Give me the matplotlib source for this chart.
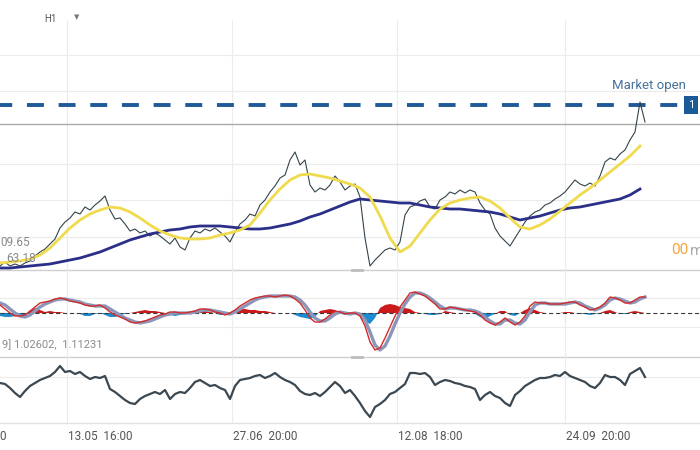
import numpy as np
import matplotlib
matplotlib.use('Agg')
import matplotlib.pyplot as plt
from matplotlib.transforms import blended_transform_factory
from matplotlib.lines import Line2D

plt.rcParams['font.family'] = ['Roboto', 'DejaVu Sans']
plt.rcParams['lines.scale_dashes'] = False

# ---- data (one value per sample, arbitrary price units) ----
price = [34, 38, 34, 36, 34, 37, 39, 44, 48, 51,
         56, 61, 72, 78, 82, 88, 86, 93, 90, 95,
         99, 104, 90, 81, 82, 76, 69, 71, 67, 69,
         64, 67, 64, 60, 56, 62, 53, 50, 62, 69,
         67, 71, 69, 72, 68, 64, 58, 68, 76, 80,
         86, 84, 95, 100, 108, 114, 122, 125, 140, 148,
         135, 140, 115, 108, 112, 110, 115, 124, 118, 110,
         114, 116, 103, 62, 34, 40, 45, 50, 52, 50,
         58, 85, 93, 95, 99, 101, 93, 91, 100, 103,
         108, 106, 110, 107, 110, 108, 97, 90, 86, 72,
         64, 59, 54, 62, 70, 78, 84, 88, 90, 95,
         97, 101, 104, 108, 114, 120, 116, 114, 117, 114,
         124, 138, 142, 140, 146, 150, 160, 168, 198, 178]

ma_fast = [37, 38, 39, 41, 45, 52, 62, 72, 80, 86,
           90, 93, 92, 88, 82, 75, 69, 65, 62, 61,
           61, 62, 65, 67, 70, 75, 87, 100, 111, 120,
           125, 126, 124, 122, 119, 116, 112, 103, 84, 62,
           48, 54, 67, 80, 91, 97, 100, 102, 103, 99,
           92, 82, 73, 71, 75, 81, 89, 97, 105, 112,
           120, 128, 136, 144, 154]

ma_slow = [32, 32, 33, 34, 35, 36, 38, 40, 42, 45,
           48, 52, 56, 60, 63, 66, 68, 70, 71, 73,
           74, 74, 74, 73, 72, 71, 71, 72, 74, 76,
           79, 83, 86, 90, 94, 98, 101, 100, 99, 98,
           97, 97, 95, 93, 92, 91, 91, 90, 89, 88,
           86, 83, 80, 82, 84, 87, 90, 92, 93, 95,
           97, 99, 101, 105, 111]

macd_line = [8, 4, 0, -3, -3, -2, 2, 6, 10, 11,
             12, 14, 15, 14, 12, 11, 10, 8, 7, 7,
             8, 5, 1, -2, -4, -6, -9, -10, -9, -8,
             -6, -4, -2, -1, 1, 1, 0, 0, 1, 2,
             4, 4, 3, 1, 0, -2, 0, 3, 7, 10,
             13, 15, 16, 17, 17, 16, 17, 18, 17, 14,
             10, 3, -5, -9, -9, -6, -2, 2, 1, -1,
             0, 0, -3, -13, -29, -37, -35, -25, -14, -3,
             6, 13, 20, 21, 19, 17, 13, 9, 4, 4,
             6, 5, 4, 3, 2, 1, -2, -7, -10, -12,
             -9, -5, -9, -12, -9, -3, 7, 11, 10, 10,
             9, 9, 9, 10, 11, 11, 8, 6, 3, 4,
             6, 10, 16, 15, 13, 10, 10, 13, 16, 16]

signal_line = [10, 8, 4, 0, -3, -4, -2, 2, 6, 9,
               11, 13, 14, 14, 13, 12, 11, 9, 8, 7,
               7, 7, 4, 1, -2, -5, -7, -9, -10, -9,
               -8, -6, -4, -2, -1, 0, 0, 0, 0, 1,
               2, 3, 3, 2, 1, 0, -1, 1, 4, 7,
               10, 13, 15, 16, 17, 17, 17, 17, 17, 16,
               13, 8, 1, -5, -8, -8, -5, -1, 1, 0,
               -1, 0, -1, -7, -19, -32, -37, -33, -23, -11,
               0, 9, 16, 20, 20, 18, 15, 11, 7, 4,
               5, 5, 4, 3, 3, 2, 0, -4, -8, -11,
               -11, -7, -7, -10, -11, -7, 1, 8, 10, 10,
               9, 9, 9, 9, 10, 11, 10, 7, 5, 3,
               5, 8, 13, 15, 14, 12, 10, 11, 14, 16]

macd_hist = [-3, -4, -4, -3, -2, -3, 2, 5, 3, 1,
             2, 1, 1, 0, 0, 0, -1, -3, -3, -1,
             0, -2, -4, -4, -2, -1, 0, 1, 2, 3,
             2, 2, 1, 0, -2, -3, -2, -1, 0, 1,
             3, 2, 1, 0, -2, -2, 0, 2, 4, 4,
             3, 3, 2, 2, 1, 0, 0, 0, 0, -2,
             -4, -5, -6, -4, 2, 3, 4, 3, 0, -2,
             -1, 0, -2, -8, -11, -5, 5, 8, 9, 8,
             6, 5, 4, 1, 0, -1, -2, -2, -1, 2,
             1, 0, 0, 0, 0, -1, -4, -6, -3, -1,
             2, 2, -2, -3, 0, 3, 5, 3, 1, 0,
             0, 0, 0, 1, 1, 0, -1, -1, -2, -1,
             0, 2, 3, 1, -1, -1, 1, 2, 1, 0]

oscillator = [17, 16, 12, 7, 3, 9, 14, 17, 20, 22,
              24, 28, 34, 28, 29, 26, 28, 24, 21, 23,
              22, 24, 11, 8, 4, 0, -3, -4, 1, 4,
              6, 8, 6, 10, 1, 6, 8, 7, 12, 18,
              20, 17, 14, 15, 12, 10, 1, 14, 20, 21,
              22, 24, 25, 22, 24, 27, 23, 20, 18, 15,
              9, 6, 5, 7, 4, 8, 13, 18, 14, 7,
              10, 4, -3, -11, -17, -7, -4, 0, 6, 8,
              12, 16, 27, 27, 26, 27, 23, 15, 18, 20,
              19, 17, 16, 14, 13, 11, 0, 5, 8, 4,
              2, -3, -6, 5, 9, 14, 17, 20, 22, 22,
              23, 25, 24, 28, 24, 22, 20, 18, 14, 12,
              17, 25, 23, 23, 20, 15, 26, 29, 32, 23]

tick_pos = [13.4, 46.4, 79.4, 113.0]
tick_labels = ['13.05  16:00', '27.06  20:00', '12.08  18:00', '24.09  20:00']
level_open = 195
level_last = 176

# ---- layout ----
W, H = 700, 450
fig = plt.figure(figsize=(7, 4.5), dpi=100)
fig.patch.set_facecolor('white')


def rect(top, bottom):
    return [0, 1 - bottom / H, 1, (bottom - top) / H]


def ft(x, y, s, **kw):
    kw.setdefault('va', 'center')
    return fig.text(x / W, 1 - y / H, s, **kw)


ax1 = fig.add_axes(rect(20, 270))
ax2 = fig.add_axes(rect(270, 357))
ax3 = fig.add_axes(rect(357, 423))
for ax in (ax1, ax2, ax3):
    ax.set_xlim(0, 140)
    for s in ax.spines.values():
        s.set_visible(False)
    ax.set_xticks(tick_pos)
    ax.tick_params(length=0, labelbottom=False, labelleft=False)
    ax.grid(True, color='#ececec', lw=0.8, zorder=0)
    ax.set_facecolor('none')

ax1.set_ylim(30, 280)
ax1.set_yticks([245, 209, 136, 100, 63])
ax2.set_ylim(-44, 43)
ax2.set_yticks([15, -14])
ax3.set_ylim(-23, 43)
ax3.set_yticks([23])

for ax, col in ((ax1, '#cfcfcf'), (ax2, '#cfcfcf'), (ax3, '#e2e2e2')):
    ax.spines['bottom'].set_visible(True)
    ax.spines['bottom'].set_color(col)
    ax.spines['bottom'].set_linewidth(1.0)

# main panel
ax1.axhline(level_last, color='#a9a9a9', lw=1.0, zorder=2)
ax1.hlines(level_open, 0, 136, colors='#1d5a97', lw=2.8,
           linestyles=[(3.4, (12.2, 10.6))], zorder=3)
xp = np.arange(len(price))
ax1.plot(xp, price, color='#34434b', lw=0.8, zorder=4)
xm = np.arange(len(ma_slow)) * 2
ax1.plot(xm, ma_slow, color='#2b2f88', lw=2.0, zorder=5, solid_joinstyle='round')
xf = np.arange(len(ma_fast)) * 2
ax1.plot(xf, ma_fast, color='#f0da4e', lw=2.0, zorder=6, solid_joinstyle='round')

# MACD panel
xh = np.arange(len(macd_hist))
hist = np.array(macd_hist, dtype=float)
ax2.fill_between(xh, 0, hist, where=hist >= 0, interpolate=True,
                 color='#cc1a1a', lw=0, zorder=2)
ax2.fill_between(xh, 0, hist, where=hist <= 0, interpolate=True,
                 color='#1e8bd0', lw=0, zorder=2)
ax2.axhline(0, color='#3a3a3a', lw=0.8, linestyle=(0, (3, 2)), zorder=3)
ax2.plot(np.arange(len(signal_line)), signal_line, color='#8d96b8', lw=2.4, zorder=4)
ax2.plot(np.arange(len(macd_line)), macd_line, color='#d22b2b', lw=1.0, zorder=5)

# bottom oscillator
ax3.plot(np.arange(len(oscillator)), oscillator, color='#3c4851', lw=1.6, zorder=3)

# panel handles
for yy in (270, 357):
    fig.add_artist(Line2D([352 / W, 362 / W], [1 - yy / H] * 2,
                          color='#bdbdbd', lw=2, transform=fig.transFigure))

# texts
ft(44, 19, 'H1', color='#555555', fontsize=7)
ft(74, 17, '\u25BC', color='#777777', fontsize=5, family='DejaVu Sans')
ft(612, 85, 'Market open', color='#46739a', fontsize=9.5)
ft(688, 105, '1', color='white', fontsize=8,
   bbox=dict(boxstyle='square,pad=0.35', fc='#1a5a96', ec='none'))
ft(0, 242, '09.65', color='#8a8a8a', fontsize=8.5)
ft(6, 258, '63.18', color='#8a8a8a', fontsize=8.5)
ft(671, 250, '00', color='#f2a541', fontsize=11)
ft(690, 251, 'm', color='#aaaaaa', fontsize=11)
ft(-3, 345, ', 9] 1.02602,  1.11231', color='#8a8a8a', fontsize=8)
ft(-1, 437, '0', color='#555555', fontsize=8.5)

trans = blended_transform_factory(ax3.transData, fig.transFigure)
for tp, lab in zip(tick_pos, tick_labels):
    ax3.text(tp + 0.2, 1 - 437 / H, lab, transform=trans, ha='left', va='center',
             color='#555555', fontsize=8.5, clip_on=False)

fig.savefig('out.png', dpi=100, facecolor='white')
